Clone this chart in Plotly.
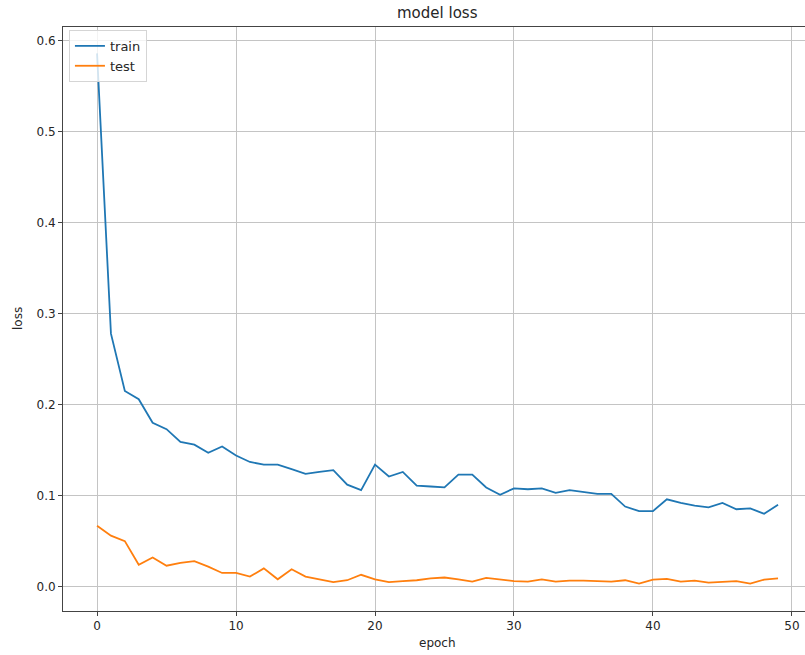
import plotly.graph_objects as go

# Training history: loss per epoch
epochs = list(range(50))
train_loss = [
    0.586, 0.278, 0.215, 0.206, 0.180, 0.173, 0.159, 0.156, 0.147, 0.154,
    0.144, 0.137, 0.134, 0.134, 0.129, 0.124, 0.126, 0.128, 0.112, 0.106,
    0.134, 0.121, 0.126, 0.111, 0.110, 0.109, 0.123, 0.123, 0.109, 0.101,
    0.108, 0.107, 0.108, 0.103, 0.106, 0.104, 0.102, 0.102, 0.088, 0.083,
    0.083, 0.096, 0.092, 0.089, 0.087, 0.092, 0.085, 0.086, 0.080, 0.090,
]
test_loss = [
    0.067, 0.056, 0.050, 0.024, 0.032, 0.023, 0.026, 0.028, 0.022, 0.015,
    0.015, 0.011, 0.020, 0.008, 0.019, 0.011, 0.008, 0.005, 0.007, 0.013,
    0.008, 0.005, 0.006, 0.007, 0.009, 0.010, 0.008, 0.0055, 0.0095, 0.008,
    0.006, 0.0055, 0.008, 0.0055, 0.0065, 0.0065, 0.006, 0.0055, 0.007, 0.0033,
    0.0077, 0.0085, 0.0055, 0.0065, 0.0044, 0.0048, 0.006, 0.0033, 0.0077, 0.009,
]
x_ticks = [0, 10, 20, 30, 40, 50]
y_ticks = [0.0, 0.1, 0.2, 0.3, 0.4, 0.5, 0.6]

FONT = "DejaVu Sans"
TEXT = "#262626"

fig = go.Figure()
fig.add_trace(go.Scatter(x=epochs, y=train_loss, mode="lines", name="train",
                         line=dict(color="#1f77b4", width=1.8)))
fig.add_trace(go.Scatter(x=epochs, y=test_loss, mode="lines", name="test",
                         line=dict(color="#ff7f0e", width=1.8)))

axis_common = dict(
    showgrid=True, gridcolor="#c4c4c4", gridwidth=1,
    zeroline=False, showline=True, linecolor="#444444", linewidth=1,
    ticks="outside", ticklen=4, tickwidth=1, tickcolor="#444444",
    tickfont=dict(family=FONT, size=12, color=TEXT),
)

fig.update_xaxes(range=[-2.45, 50.94], tickvals=x_ticks, mirror=True, **axis_common)
fig.update_yaxes(range=[-0.0268, 0.615], tickvals=y_ticks, tickformat=".1f", **axis_common)

fig.update_layout(
    width=805, height=655,
    margin=dict(l=63, r=0, t=27, b=44),
    plot_bgcolor="white", paper_bgcolor="white",
    font=dict(family=FONT, size=12, color=TEXT),
    showlegend=True,
    legend=dict(
        x=0.008, y=0.995, xanchor="left", yanchor="top",
        bgcolor="rgba(255,255,255,0.8)", bordercolor="#d5d5d5", borderwidth=1,
        font=dict(family=FONT, size=13, color=TEXT),
        itemwidth=30, tracegroupgap=0,
    ),
    hovermode=False,
    annotations=[
        dict(text="model loss", x=0.5047, y=1.024, xref="paper", yref="paper",
             xanchor="center", yanchor="middle", showarrow=False,
             font=dict(family=FONT, size=15, color=TEXT)),
        dict(text="epoch", x=0.5047, y=-0.0548, xref="paper", yref="paper",
             xanchor="center", yanchor="middle", showarrow=False,
             font=dict(family=FONT, size=12, color=TEXT)),
        dict(text="loss", x=-0.0606, y=0.5, xref="paper", yref="paper",
             xanchor="center", yanchor="middle", showarrow=False, textangle=-90,
             font=dict(family=FONT, size=12, color=TEXT)),
    ],
)

fig.write_html("out.html")
